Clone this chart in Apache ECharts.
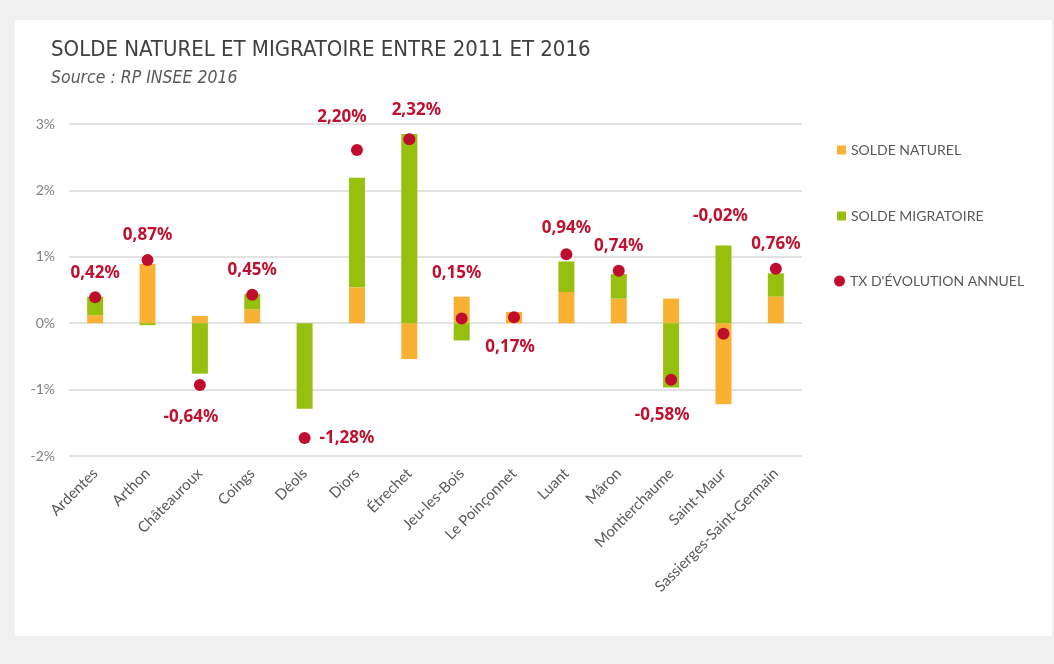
<!DOCTYPE html>
<html>
<head>
<meta charset="utf-8">
<script src="https://cdn.jsdelivr.net/npm/echarts@6/dist/echarts.min.js"></script>
<style>
  html, body { margin: 0; padding: 0; background: #f0f0f0; }
  #chart { width: 1054px; height: 664px; }
</style>
</head>
<body>
<div id="chart"></div>
<script>
// communes
var categories = ['Ardentes', 'Arthon', 'Châteauroux', 'Coings', 'Déols', 'Diors', 'Étrechet',
  'Jeu-les-Bois', 'Le Poinçonnet', 'Luant', 'Mâron', 'Montierchaume', 'Saint-Maur', 'Sassierges-Saint-Germain'];

// valeurs en %
var soldeNaturel = [0.12, 0.89, 0.11, 0.21, 0, 0.54, -0.54, 0.40, 0.17, 0.47, 0.37, 0.37, -1.22, 0.40];
var soldeMigratoire = [0.28, -0.03, -0.76, 0.23, -1.29, 1.65, 2.85, -0.26, 0, 0.46, 0.37, -0.97, 1.17, 0.35];
var txEvolution = [0.39, 0.95, -0.93, 0.43, -1.73, 2.61, 2.77, 0.07, 0.09, 1.04, 0.79, -0.85, -0.16, 0.82];
var txLabels = ['0,42%', '0,87%', '-0,64%', '0,45%', '-1,28%', '2,20%', '2,32%', '0,15%', '0,17%',
  '0,94%', '0,74%', '-0,58%', '-0,02%', '0,76%'];

var yTicks = [-2, -1, 0, 1, 2, 3];

// placement des étiquettes (style)
var labelPlacement = [
  ['top', 0, -5], ['top', 0, -5], ['bottom', -9, 13], ['top', 0, -5], ['right', 4, 0],
  ['top', -15, -13], ['top', 7, -10], ['top', -5, -26], ['bottom', -4, 10], ['top', 0, -6],
  ['top', 0, -5], ['bottom', -9, 16], ['top', -3, -98], ['top', 0, -5]
];

var ORANGE = '#F8B133';
var GREEN = '#97BF0D';
var RED = '#C00D2D';
var FONT = 'Lato, sans-serif';
var TITLE_FONT = 'DejaVu Sans Condensed, Liberation Sans Narrow, sans-serif';

var chart = echarts.init(document.getElementById('chart'));

var dots = txEvolution.map(function (v, i) {
  var p = labelPlacement[i];
  return {
    value: v,
    label: { position: p[0], offset: [p[1], p[2]] }
  };
});

var legendText = { fontFamily: FONT, fontSize: 14, color: '#595959' };

var option = {
  backgroundColor: '#f0f0f0',
  animation: false,
  graphic: [{
    type: 'rect', z: -10,
    shape: { x: 15, y: 20, width: 1037, height: 616 },
    style: { fill: '#ffffff' }
  }],
  title: {
    text: 'SOLDE NATUREL ET MIGRATOIRE ENTRE 2011 ET 2016',
    subtext: 'Source : RP INSEE 2016',
    left: 46, top: 34,
    itemGap: 8,
    textStyle: { fontFamily: TITLE_FONT, fontSize: 22, fontWeight: 'normal', color: '#404040' },
    subtextStyle: { fontFamily: TITLE_FONT, fontSize: 17.5, fontStyle: 'italic', color: '#595959' }
  },
  legend: [{
    orient: 'vertical',
    left: 837, top: 143, padding: 0,
    itemGap: 52,
    itemWidth: 9, itemHeight: 9,
    textStyle: legendText,
    data: [
      { name: 'SOLDE NATUREL', icon: 'rect' },
      { name: 'SOLDE MIGRATOIRE', icon: 'rect' }
    ]
  }, {
    orient: 'vertical',
    left: 834, top: 274, padding: 0,
    itemWidth: 11, itemHeight: 11,
    textStyle: legendText,
    data: [{ name: "TX D'ÉVOLUTION ANNUEL", icon: 'circle' }]
  }],
  grid: { left: 69, right: 252, top: 124, bottom: 208 },
  xAxis: {
    type: 'category',
    data: categories,
    axisLine: { show: false },
    axisTick: { show: false },
    axisLabel: {
      rotate: 45, interval: 0, margin: 15,
      fontFamily: FONT, fontSize: 15, color: '#595959'
    }
  },
  yAxis: {
    type: 'value',
    min: yTicks[0], max: yTicks[yTicks.length - 1], interval: 1,
    axisLine: { show: false },
    axisTick: { show: false },
    splitLine: { lineStyle: { color: '#d9d9d9', width: 1.5 } },
    axisLabel: {
      margin: 14,
      formatter: function (v) { return v + '%'; },
      fontFamily: FONT, fontSize: 14, color: '#7f7f7f'
    }
  },
  series: [
    {
      name: 'SOLDE NATUREL', type: 'bar', stack: 'solde',
      barWidth: 16, data: soldeNaturel,
      itemStyle: { color: ORANGE }
    },
    {
      name: 'SOLDE MIGRATOIRE', type: 'bar', stack: 'solde',
      barWidth: 16, data: soldeMigratoire,
      itemStyle: { color: GREEN }
    },
    {
      name: "TX D'ÉVOLUTION ANNUEL", type: 'scatter',
      symbolSize: 12, z: 5,
      data: dots,
      itemStyle: { color: RED, opacity: 1 },
      label: {
        show: true,
        formatter: function (p) { return txLabels[p.dataIndex]; },
        fontFamily: 'Noto Sans, sans-serif', fontSize: 17, fontWeight: 'bold', color: '#C0102F'
      }
    }
  ]
};

chart.setOption(option);
</script>
</body>
</html>
